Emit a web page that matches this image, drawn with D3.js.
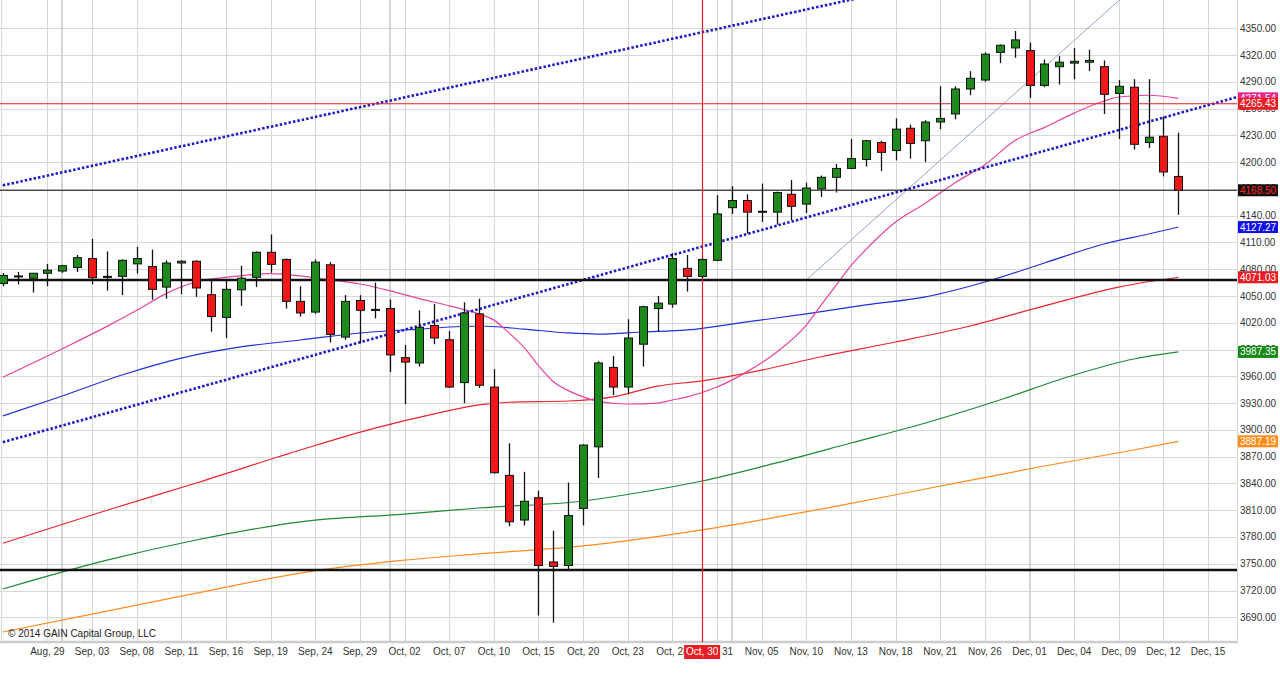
<!DOCTYPE html>
<html>
<head>
<meta charset="utf-8">
<script src="https://cdn.jsdelivr.net/npm/d3@7"></script>
<style>
  body { margin: 0; background: #fff; }
  text { font-family: "Liberation Sans", Arial, sans-serif; }
</style>
</head>
<body>
<svg id="chart" width="1280" height="673"></svg>
<script>
// daily candles, Aug 26 -> Dec 15 2014
const opens  = [4064,4072,4070,4075.5,4078,4082,4092,4072,4072,4086,4083,4060,4087,4089,4051.5,4026,4057,4071,4099,4091,
                4044,4032,4085,4004,4045,4035,4036,3981,3975,4017,4001,3953,4030,3948,3849,3799,3824,3752,3748,3812,
                3881,3970,3948,3996,4036,4041,4081,4072,4090,4149,4157,4145,4144,4164,4153,4170,4183,4193,4203,4222,
                4213,4238,4224,4245,4254,4282,4292,4323,4328,4325,4286,4307,4311,4312,4307,4277,4284,4222,4229,4184];
const highs  = [4076,4077,4076,4086,4085,4096,4114,4100,4091,4105,4102,4090,4090,4090,4068,4068,4084,4100,4119,4092,
                4061,4091,4088,4051,4051,4065,4046,3995,4034,4041,4011,4043,4047,3968,3885,3853,3832,3787,3841,3884,
                3977,3983,4024,4039,4050,4098,4096,4092,4163,4173,4164,4176,4167,4180,4177,4185,4198,4226,4225,4224,
                4249,4242,4247,4285,4285,4302,4323,4332,4347,4334,4315,4319,4328,4326,4314,4292,4293,4293,4251,4233];
const lows   = [4061,4063,4054,4061,4076,4077,4063,4056,4051,4075,4046,4047,4052,4049,4010,4003,4039,4060,4076,4036,
                4027,4030,3998,4001,3997,4025,3965,3929,3971,3996,3947,3930,3947,3851,3792,3793,3692,3684,3744,3793,
                3846,3939,3940,3971,4010,4037,4055,4070,4089,4142,4120,4133,4130,4135,4143,4161,4166,4192,4195,4190,
                4202,4204,4200,4237,4248,4275,4290,4311,4317,4272,4284,4287,4293,4302,4254,4226,4214,4216,4184,4141];
const closes = [4073,4072.5,4075.5,4079,4084,4093,4070.5,4071,4090,4092,4057.5,4087,4089,4059,4027,4057.5,4070,4099,4085.5,4044,
                4031,4088,4007,4044,4034,4034,3984,3976,4015,4003,3948,4031,3950,3852,3797,3820,3748,3747,3804,3883,
                3975,3948,4003,4038,4042,4092,4072,4091,4142,4157,4144,4144.5,4166,4150.5,4171,4183,4193,4204,4224,4211,
                4237,4221,4245,4249,4282,4294,4321,4331,4337,4286,4310,4312,4313,4314,4276,4285,4220,4228,4189,4168.5];

// axis labels, one every 3 sessions starting Aug 29
const tickLabels = ["Aug, 29","Sep, 03","Sep, 08","Sep, 11","Sep, 16","Sep, 19","Sep, 24","Sep, 29","Oct, 02",
                    "Oct, 07","Oct, 10","Oct, 15","Oct, 20","Oct, 23","Oct, 28","Oct, 31","Nov, 05","Nov, 10",
                    "Nov, 13","Nov, 18","Nov, 21","Nov, 26","Dec, 01","Dec, 04","Dec, 09","Dec, 12","Dec, 15"];
const monthStarts = [4, 26, 49, 69];   // Sep 01, Oct 01, Nov 03, Dec 01
const markedSlot = 47, markedLabel = "Oct, 30";

// moving averages: [session, value]
const maPink   = [[0,3959],[4,3991],[7,4016],[9,4034],[11,4053],[13,4066],[15,4071],[18,4075],[20,4072.5],[22,4068],
                  [24,4063.5],[26,4056],[28,4047],[30,4039],[32,4030],[33,4023],[34,4009],[35,3993],[36,3972],[37,3954],
                  [38,3944],[39,3937],[40,3932],[42,3929],[44,3930],[45,3933.5],[46,3937],[48,3948],[50,3965],[52,3987],
                  [54,4017.5],[55,4040],[56,4062],[57,4084],[58,4102],[60,4133],[62,4154],[64,4177],[66,4197],[68,4224],
                  [70,4239],[72,4255],[74,4268.5],[75,4273],[77,4275],[79,4271.54]];
const maBlue   = [[0,3915.6],[4,3938],[8,3961.5],[12,3980.5],[16,3993],[20,4000.7],[24,4008.6],[28,4013],[32,4016.4],
                  [35,4013],[38,4008.6],[40,4007.4],[43,4009.7],[46,4012],[50,4021],[54,4030],[58,4040],[62,4049],
                  [66,4065.7],[70,4087],[74,4108.3],[77,4119.5],[79,4127.27]];
const maRed    = [[0,3773],[7,3810],[13,3840.5],[20,3877.5],[25,3902],[29,3918],[32,3928],[34,3931],[38,3932.4],
                  [41,3937],[44,3949],[47,3955],[51,3967],[55,3982],[60,3998.5],[65,4016.4],[70,4039],[75,4060],[79,4071.03]];
const maGreen  = [[0,3721.7],[7,3754],[13,3776.6],[20,3797],[27,3805.7],[32,3812.5],[39,3820.3],[43,3830.4],[47,3842.7],
                  [52,3863],[57,3885.3],[62,3907.7],[67,3933.5],[72,3961.5],[76,3979.4],[79,3987.35]];
const maOrange = [[0,3673.5],[7,3697],[13,3717],[20,3739.6],[27,3754],[32,3761],[39,3770],[47,3788],[55,3811.3],
                  [62,3833.8],[70,3859.5],[76,3877.5],[79,3887.19]];

// hand drawn trend lines: two anchor points each
const trendUpper = [[0,4174],[60,4393]];
const trendLower = [[0,3886.2],[84,4277.9]];
const trendThin  = [[54,4068],[76,4396]];

const redLevel = 4265.43;
const blackLevels = [[4168.5, 1], [4068, 2.5], [3743, 2.5]];

const yTicks = d3.range(3690, 4351, 30);

const svg = d3.select("#chart");
const plotW = 1237, plotH = 642;

const x = d3.scaleLinear().domain([0, 79]).range([2.8, 2.8 + 79 * 14.88]);
const y = d3.scaleLinear().domain([3690, 4350]).range([617.3, 28.3]);

svg.append("defs").append("clipPath").attr("id", "plot")
  .append("rect").attr("width", plotW).attr("height", plotH);

const grid = svg.append("g");
grid.selectAll(".hg")
  .data(yTicks)
  .join("line")
  .attr("x1", 0).attr("x2", plotW)
  .attr("y1", d => Math.round(y(d)) + 0.5).attr("y2", d => Math.round(y(d)) + 0.5)
  .attr("stroke", "#d8d8d8");

const tickSlots = tickLabels.map((d, i) => 3 + 3 * i);
grid.selectAll(".vg")
  .data(tickSlots.concat([-0.1]))
  .join("line")
  .attr("x1", d => Math.round(x(d)) + 0.5).attr("x2", d => Math.round(x(d)) + 0.5)
  .attr("y1", 0).attr("y2", plotH)
  .attr("stroke", "#d8d8d8");
grid.selectAll(".mg")
  .data(monthStarts)
  .join("line")
  .attr("x1", d => Math.round(x(d))).attr("x2", d => Math.round(x(d)))
  .attr("y1", 0).attr("y2", plotH)
  .attr("stroke", "#d4d4d4").attr("stroke-width", 2);

grid.append("line").attr("x1", plotW + 0.5).attr("x2", plotW + 0.5).attr("y1", 0).attr("y2", plotH)
  .attr("stroke", "#d4d4d4");
grid.append("line").attr("x1", 0).attr("x2", plotW + 1).attr("y1", plotH).attr("y2", plotH)
  .attr("stroke", "#cccccc").attr("stroke-width", 2.5);

const plot = svg.append("g").attr("clip-path", "url(#plot)");

// moving averages
const line = d3.line().x(d => x(d[0])).y(d => y(d[1])).curve(d3.curveMonotoneX);
[[maOrange, "#ff8a1c"], [maGreen, "#1d8a36"], [maRed, "#ec2430"], [maBlue, "#2030d8"], [maPink, "#e8449c"]]
  .forEach(([data, color]) => {
    plot.append("path").datum(data)
      .attr("d", line).attr("fill", "none")
      .attr("stroke", color).attr("stroke-width", 1.2);
  });

// trend lines
const straight = d3.line().x(d => x(d[0])).y(d => y(d[1]));
plot.append("path").datum(trendThin).attr("d", straight)
  .attr("fill", "none").attr("stroke", "#7a8cb8").attr("stroke-width", 0.8);
[trendUpper, trendLower].forEach(t => {
  plot.append("path").datum(t).attr("d", straight)
    .attr("fill", "none").attr("stroke", "#1c1cc8")
    .attr("stroke-width", 2.6).attr("stroke-dasharray", "2.5,2");
});

// horizontal levels
plot.selectAll(".lvl")
  .data(blackLevels)
  .join("line")
  .attr("x1", 0).attr("x2", plotW)
  .attr("y1", d => y(d[0])).attr("y2", d => y(d[0]))
  .attr("stroke", "#111").attr("stroke-width", d => d[1]);
plot.append("line")
  .attr("x1", 0).attr("x2", plotW)
  .attr("y1", y(redLevel)).attr("y2", y(redLevel))
  .attr("stroke", "#e01b22").attr("stroke-width", 1.2);
plot.append("line")
  .attr("x1", Math.round(x(markedSlot)) + 0.5).attr("x2", Math.round(x(markedSlot)) + 0.5)
  .attr("y1", 0).attr("y2", plotH)
  .attr("stroke", "#e01b22").attr("stroke-width", 1.2);

// candles
const candles = d3.range(opens.length).map(i => ({
  i, o: opens[i], h: highs[i], l: lows[i], c: closes[i]
}));
const cg = plot.append("g");
cg.selectAll(".wick")
  .data(candles)
  .join("line")
  .attr("x1", d => Math.round(x(d.i)) + 0.5).attr("x2", d => Math.round(x(d.i)) + 0.5)
  .attr("y1", d => y(d.h)).attr("y2", d => y(d.l))
  .attr("stroke", "#111").attr("stroke-width", 1.3);
cg.selectAll(".body")
  .data(candles)
  .join("rect")
  .attr("x", d => Math.round(x(d.i)) - 3.5)
  .attr("y", d => y(Math.max(d.o, d.c)))
  .attr("width", 8)
  .attr("height", d => Math.max(1, Math.abs(y(d.o) - y(d.c))))
  .attr("fill", d => d.c >= d.o ? "#1e8a1e" : "#f01818")
  .attr("stroke", "#111").attr("stroke-width", 1);

// right axis
const ax = svg.append("g");
ax.selectAll(".yl")
  .data(yTicks)
  .join("text")
  .attr("x", 1240).attr("y", d => y(d) + 3.5)
  .attr("font-size", "10px").attr("fill", "#333")
  .text(d => d3.format(".2f")(d));

const tags = [
  [maPink[maPink.length - 1][1], "#e8288e", "#fff"],
  [redLevel, "#ec1c24", "#fff"],
  [blackLevels[0][0], "#111", "#ff2a2a"],
  [maBlue[maBlue.length - 1][1], "#1010e8", "#fff"],
  [maRed[maRed.length - 1][1], "#ec1c24", "#fff"],
  [maGreen[maGreen.length - 1][1], "#158a15", "#fff"],
  [maOrange[maOrange.length - 1][1], "#ff8c1a", "#fff"]
];
const tg = ax.selectAll(".tag").data(tags).join("g")
  .attr("transform", d => `translate(1238,${y(d[0]) - 6})`);
tg.append("rect").attr("width", 40).attr("height", 12).attr("fill", d => d[1]);
tg.append("text").attr("x", 2).attr("y", 9.5)
  .attr("font-size", "10px").attr("fill", d => d[2])
  .text(d => d3.format(".2f")(d[0]));

// bottom axis
ax.selectAll(".xl")
  .data(tickLabels)
  .join("text")
  .attr("x", (d, i) => x(tickSlots[i]))
  .attr("y", 655)
  .attr("text-anchor", "middle")
  .attr("font-size", "10px").attr("fill", "#333")
  .text(d => d);

const mk = ax.append("g").attr("transform", `translate(${x(markedSlot)},0)`);
mk.append("rect").attr("x", -18).attr("y", 645).attr("width", 36).attr("height", 14).attr("fill", "#ec1c24");
mk.append("text").attr("y", 655).attr("text-anchor", "middle")
  .attr("font-size", "10px").attr("fill", "#fff").text(markedLabel);

svg.append("text")
  .attr("x", 8).attr("y", 637)
  .attr("font-size", "10px").attr("fill", "#222")
  .text("© 2014 GAIN Capital Group, LLC");
</script>
</body>
</html>
